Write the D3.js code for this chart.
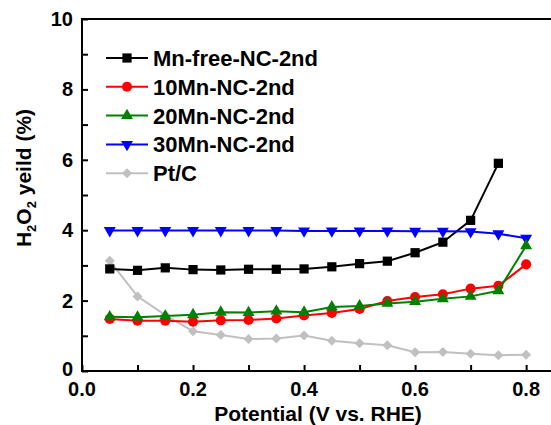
<!DOCTYPE html>
<html lang="en">
<head>
  <meta charset="UTF-8" />
  <title>H2O2 yield</title>
  <style>
    body { margin: 0; background: white; }
    text { font-family: "Liberation Sans", Arial, sans-serif; font-weight: bold; }
  </style>
  <script src="https://d3js.org/d3.v7.min.js"></script>
</head>
<body>
  <script>
    // data
    const potential = [0.05, 0.10, 0.15, 0.20, 0.25, 0.30, 0.35, 0.40, 0.45, 0.50, 0.55, 0.60, 0.65, 0.70, 0.75, 0.80];
    const mnFree = [2.90, 2.86, 2.93, 2.88, 2.87, 2.89, 2.89, 2.90, 2.96, 3.05, 3.12, 3.36, 3.66, 4.28, 5.90];
    const mn10 = [1.48, 1.43, 1.43, 1.40, 1.44, 1.45, 1.49, 1.58, 1.65, 1.76, 1.99, 2.10, 2.18, 2.34, 2.42, 3.03];
    const mn20 = [1.54, 1.53, 1.56, 1.60, 1.67, 1.66, 1.70, 1.67, 1.82, 1.85, 1.92, 1.97, 2.05, 2.12, 2.28, 3.56];
    const mn30 = [3.99, 3.99, 3.99, 3.99, 3.99, 3.99, 3.99, 3.98, 3.98, 3.98, 3.98, 3.97, 3.97, 3.96, 3.90, 3.77];
    const ptc = [3.13, 2.12, 1.59, 1.13, 1.02, 0.91, 0.92, 1.01, 0.86, 0.79, 0.73, 0.53, 0.54, 0.49, 0.45, 0.46];
    const seriesNames = ["Mn-free-NC-2nd", "10Mn-NC-2nd", "20Mn-NC-2nd", "30Mn-NC-2nd", "Pt/C"];
    const xTicks = [0.0, 0.2, 0.4, 0.6, 0.8];
    const yTicks = [0, 2, 4, 6, 8, 10];

    const series = [
      { name: seriesNames[0], values: mnFree, color: "#000000", symbol: d3.symbolSquare, size: 85, rot: 0 },
      { name: seriesNames[1], values: mn10, color: "#ff0000", symbol: d3.symbolCircle, size: 80, rot: 0 },
      { name: seriesNames[2], values: mn20, color: "#008000", symbol: d3.symbolTriangle, size: 62, rot: 0 },
      { name: seriesNames[3], values: mn30, color: "#0000ff", symbol: d3.symbolTriangle, size: 62, rot: 180 },
      { name: seriesNames[4], values: ptc, color: "#c0c0c0", symbol: d3.symbolSquare, size: 50, rot: 45 }
    ];

    const W = 551, H = 425;
    const pLeft = 82, pTop = 19, pRight = 555, pBottom = 371;

    const svg = d3.select("body").append("svg")
      .attr("width", W)
      .attr("height", H);

    const x = d3.scaleLinear().domain([0, 0.852]).range([pLeft, pRight]);
    const y = d3.scaleLinear().domain([0, 10]).range([pBottom, pTop]);

    // frame
    svg.append("rect")
      .attr("x", pLeft).attr("y", pTop)
      .attr("width", pRight - pLeft).attr("height", pBottom - pTop)
      .attr("fill", "none").attr("stroke", "#000").attr("stroke-width", 2);

    // axes, ticks pointing inward
    const xAxis = svg.append("g")
      .attr("transform", "translate(0," + pBottom + ")")
      .call(d3.axisBottom(x).tickValues(d3.range(0, 0.85, 0.1)).tickSizeInner(-6).tickSizeOuter(0).tickFormat(""));
    xAxis.select(".domain").remove();
    xAxis.selectAll("line").attr("stroke-width", 2);

    const yAxis = svg.append("g")
      .attr("transform", "translate(" + pLeft + ",0)")
      .call(d3.axisLeft(y).tickValues(d3.range(0, 10.5, 1)).tickSizeInner(-6).tickSizeOuter(0).tickFormat(""));
    yAxis.select(".domain").remove();
    yAxis.selectAll("line").attr("stroke-width", 2);

    svg.selectAll(".xlab").data(xTicks).enter().append("text")
      .attr("x", d => x(d))
      .attr("y", 396)
      .attr("text-anchor", "middle")
      .attr("font-size", 20)
      .text(d => d.toFixed(1));

    svg.selectAll(".ylab").data(yTicks).enter().append("text")
      .attr("x", 73)
      .attr("y", d => y(d) + (d === 0 ? 5 : 7))
      .attr("text-anchor", "end")
      .attr("font-size", 20)
      .text(d => d);

    svg.append("text")
      .attr("x", 318)
      .attr("y", 421)
      .attr("text-anchor", "middle")
      .attr("font-size", 21)
      .text("Potential (V vs. RHE)");

    const yt = svg.append("text")
      .attr("transform", "translate(31,178) rotate(-90)")
      .attr("text-anchor", "middle")
      .attr("font-size", 21);
    yt.append("tspan").text("H");
    yt.append("tspan").attr("font-size", 13).attr("dy", 5).text("2");
    yt.append("tspan").attr("dy", -5).text("O");
    yt.append("tspan").attr("font-size", 13).attr("dy", 5).text("2");
    yt.append("tspan").attr("dy", -5).text(" yeild (%)");

    const line = d3.line()
      .x((d, i) => x(potential[i]))
      .y(d => y(d));

    // draw Pt/C first so the coloured series sit on top
    const order = [4, 0, 3, 1, 2];
    order.forEach(k => {
      const s = series[k];
      const g = svg.append("g");
      g.append("path")
        .attr("d", line(s.values))
        .attr("fill", "none")
        .attr("stroke", s.color)
        .attr("stroke-width", 2);
      g.selectAll("path.pt").data(s.values).enter().append("path")
        .attr("class", "pt")
        .attr("d", d3.symbol().type(s.symbol).size(s.size))
        .attr("transform", (d, i) => "translate(" + x(potential[i]) + "," + y(d) + ") rotate(" + s.rot + ")")
        .attr("fill", s.color);
    });

    // legend
    const leg = svg.append("g");
    series.forEach((s, i) => {
      const ly = 58 + i * 28.8;
      leg.append("line")
        .attr("x1", 106).attr("x2", 148)
        .attr("y1", ly).attr("y2", ly)
        .attr("stroke", s.color).attr("stroke-width", 2);
      leg.append("path")
        .attr("d", d3.symbol().type(s.symbol).size(s.size))
        .attr("transform", "translate(127," + ly + ") rotate(" + s.rot + ")")
        .attr("fill", s.color);
      leg.append("text")
        .attr("x", 153)
        .attr("y", ly + 8)
        .attr("font-size", 22)
        .text(s.name);
    });
  </script>
</body>
</html>
